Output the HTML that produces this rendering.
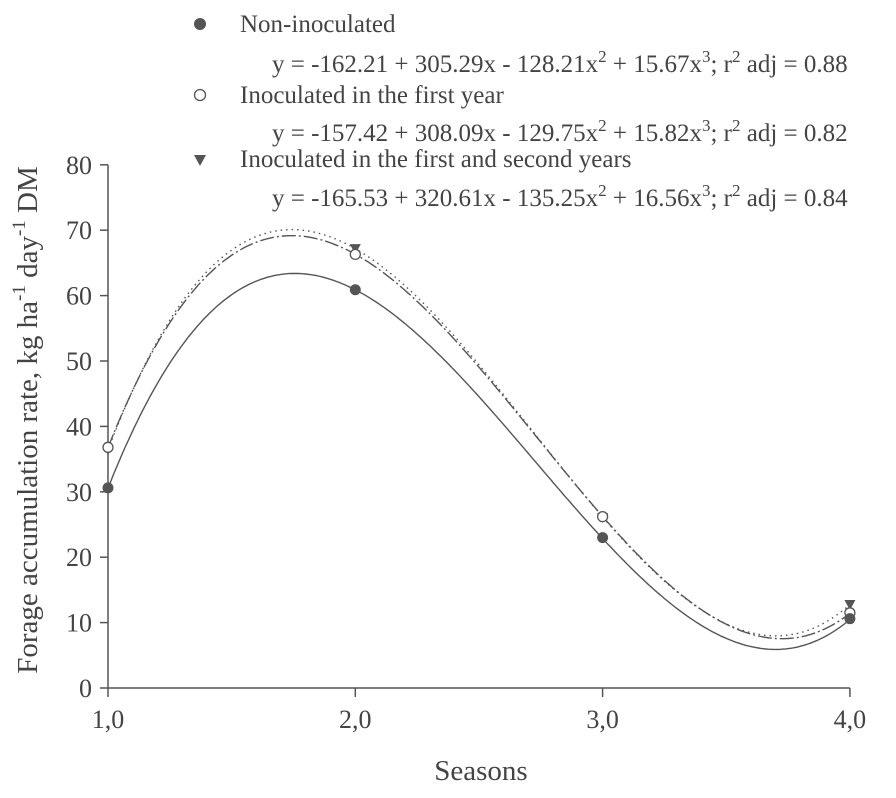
<!DOCTYPE html>
<html><head><meta charset="utf-8"><style>
body{margin:0;background:#fff}
svg{display:block;font-family:"Liberation Serif",serif;fill:#444}
</style></head><body>
<svg id="chart" width="896" height="798" viewBox="0 0 896 798" xmlns="http://www.w3.org/2000/svg">
<g id="legend" font-size="25">
 <g>
  <circle cx="200" cy="24" r="6" fill="#555"/>
  <text x="240" y="32">Non-inoculated</text>
  <text x="272" y="72">y = -162.21 + 305.29x - 128.21x<tspan font-size="17" dy="-10">2</tspan><tspan dy="10"> + 15.67x</tspan><tspan font-size="17" dy="-10">3</tspan><tspan dy="10">; r</tspan><tspan font-size="17" dy="-10">2</tspan><tspan dy="10"> adj = 0.88</tspan></text>
 </g>
 <g>
  <circle cx="200" cy="95" r="5.5" fill="#fff" stroke="#555" stroke-width="1.3"/>
  <text x="240" y="103">Inoculated in the first year</text>
  <text x="272" y="141">y = -157.42 + 308.09x - 129.75x<tspan font-size="17" dy="-10">2</tspan><tspan dy="10"> + 15.82x</tspan><tspan font-size="17" dy="-10">3</tspan><tspan dy="10">;  r</tspan><tspan font-size="17" dy="-10">2</tspan><tspan dy="10"> adj = 0.82</tspan></text>
 </g>
 <g>
  <path d="M194,155 L206,155 L200,166 Z" fill="#555"/>
  <text x="240" y="167">Inoculated in the first and second years</text>
  <text x="272" y="206">y =  -165.53 + 320.61x - 135.25x<tspan font-size="17" dy="-10">2</tspan><tspan dy="10"> + 16.56x</tspan><tspan font-size="17" dy="-10">3</tspan><tspan dy="10">;  r</tspan><tspan font-size="17" dy="-10">2</tspan><tspan dy="10"> adj = 0.84</tspan></text>
 </g>
</g>
<g id="axes"></g>
<g id="plot"></g>
<text x="481" y="780" font-size="29" text-anchor="middle">Seasons</text>
<text transform="translate(37,420) rotate(-90)" font-size="29" text-anchor="middle">Forage accumulation rate, kg ha<tspan font-size="19" dy="-12">-1</tspan><tspan dy="12"> day</tspan><tspan font-size="19" dy="-12">-1</tspan><tspan dy="12"> DM</tspan></text>
</svg>
<script>
const seasons=[1,2,3,4];
const xTicks=[1,2,3,4];
const xTickLabels=["1,0","2,0","3,0","4,0"];
const yTicks=[0,10,20,30,40,50,60,70,80];
const nonInoc=[30.6,60.9,23.0,10.6];
const firstYear=[36.8,66.3,26.2,11.5];
const firstSecond=[36.4,67.1,26.0,12.7];
const coefNon=[-162.21,305.29,-128.21,15.67];
const coefFirst=[-157.42,308.09,-129.75,15.82];
const coefBoth=[-165.53,320.61,-135.25,16.56];
const NS="http://www.w3.org/2000/svg";
const X=v=>108+(v-1)*247.3;
const Y=v=>688-v*6.54;
function mk(t,a,p){const e=document.createElementNS(NS,t);for(const k in a)e.setAttribute(k,a[k]);p.appendChild(e);return e;}
const axes=document.getElementById('axes'),plot=document.getElementById('plot');
const ya=mk('line',{x1:108,y1:Y(80),x2:108,y2:688,stroke:'#555','stroke-width':1.5},axes);


const xa=mk('line',{x1:108,y1:688,x2:X(4),y2:688,stroke:'#555','stroke-width':1.5},axes);


yTicks.forEach(v=>{
 const t=mk('line',{x1:100,x2:108,y1:Y(v),y2:Y(v),stroke:'#555','stroke-width':1.5},axes);
 
 
 const l=mk('text',{x:92,y:Y(v)+9,'font-size':26,'text-anchor':'end'},axes);l.textContent=v;
 
 
});
xTicks.forEach((v,i)=>{
 const t=mk('line',{x1:X(v),x2:X(v),y1:688,y2:697,stroke:'#555','stroke-width':1.5},axes);
 
 
 const l=mk('text',{x:X(v),y:728,'font-size':26,'text-anchor':'middle'},axes);l.textContent=xTickLabels[i];
 
 
});
function curve(c,dash,name){
 let d='';for(let i=0;i<=300;i++){const x=1+3*i/300;const y=c[0]+c[1]*x+c[2]*x*x+c[3]*x*x*x;d+=(i?'L':'M')+X(x).toFixed(1)+','+Y(y).toFixed(1);}
 const p=mk('path',{d:d,fill:'none',stroke:'#555','stroke-width':1.4,'stroke-dasharray':dash},plot);
 
 
}
curve(coefBoth,'1.5,4','fit-line-first-second-years');
curve(coefFirst,'14,3,2,3','fit-line-first-year');
curve(coefNon,'none','fit-line-non-inoculated');
seasons.forEach((s,i)=>{
 const a=mk('path',{d:`M${X(s)-5.5},${Y(firstSecond[i])-5} L${X(s)+5.5},${Y(firstSecond[i])-5} L${X(s)},${Y(firstSecond[i])+5} Z`,fill:'#555'},plot);
 
 
 const b=mk('circle',{cx:X(s),cy:Y(firstYear[i]),r:5,fill:'#fff',stroke:'#555','stroke-width':1.3},plot);
 
 
 const c=mk('circle',{cx:X(s),cy:Y(nonInoc[i]),r:5.5,fill:'#555'},plot);
 
 
});
</script>
</body></html>
